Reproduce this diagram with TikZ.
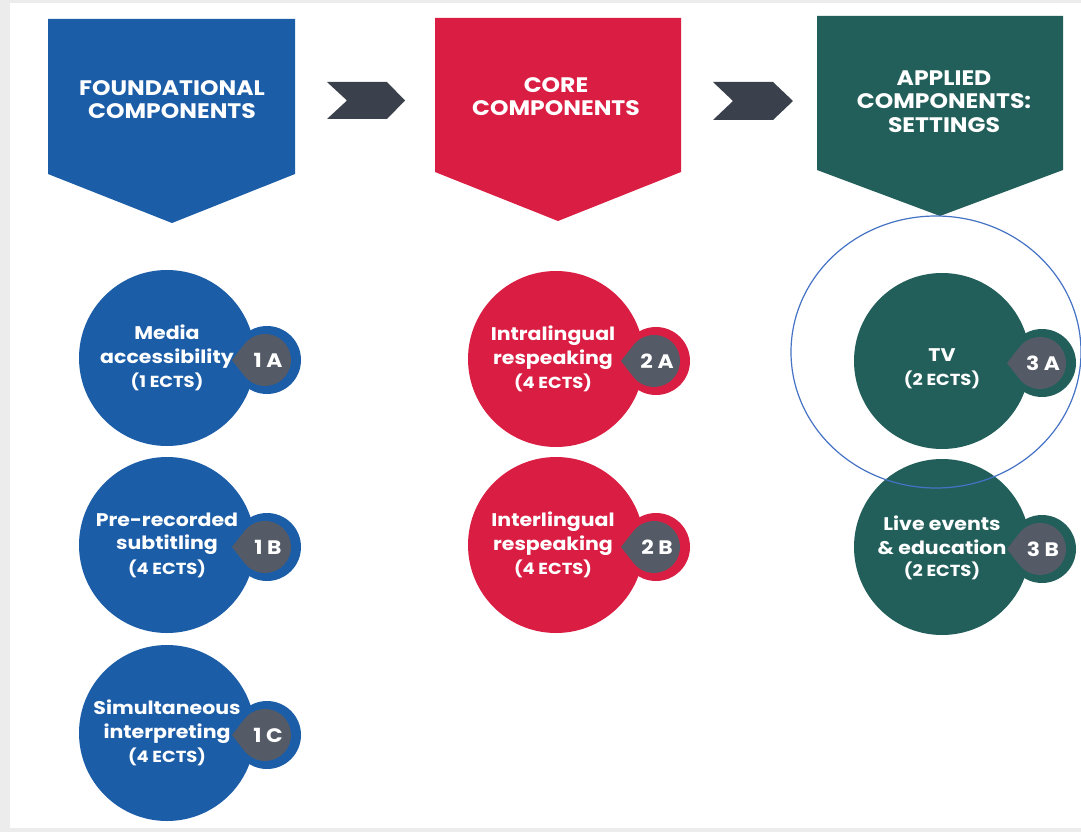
\documentclass[tikz,border=0pt]{standalone}
\usepackage{fontspec}
\setmainfont{Poppins}[FakeStretch=1.12]
\definecolor{cblue}{HTML}{1C5DA8}
\definecolor{cred}{HTML}{DA1E43}
\definecolor{cgreen}{HTML}{225F5B}
\definecolor{cbadge}{HTML}{545B66}
\definecolor{cchev}{HTML}{3B414C}
\definecolor{cbg}{HTML}{ECECEC}
\definecolor{cell}{HTML}{4472C4}
\tikzset{
  hdr/.style={text=white, font=\bfseries\fontsize{21}{23.5}\selectfont, align=center, inner sep=0pt},
  big/.style={circle, minimum size=176pt, inner sep=0pt, fill=#1},
  ring/.style={circle, minimum size=68pt, inner sep=0pt, fill=#1},
  ctext/.style={text=white, font=\bfseries\fontsize{18.3}{23.5}\selectfont, align=center, inner sep=0pt},
  ects/.style={text=white, font=\bfseries\fontsize{16}{18}\selectfont, inner sep=0pt},
  btext/.style={text=white, font=\bfseries\fontsize{19.5}{21}\selectfont, inner sep=0pt},
  chev/.style={fill=cchev},
}
\newcommand{\badge}[1]{% #1 = badge centre name
  \fill[cbadge] ($(#1)+(-33,0)$) -- ($(#1)+(142:26)$) arc[start angle=142, end angle=-142, radius=26] -- cycle;
}
\usetikzlibrary{calc}
\begin{document}
\begin{tikzpicture}[x=1pt, y=-1pt]
\useasboundingbox (0,0) rectangle (1081,832);
\fill[cbg] (0,0) rectangle (1081,832);
\fill[white] (10,3) rectangle (1081,828);
% headers
\fill[cblue] (48,19) -- (295,19) -- (295,174) -- (172,223) -- (48,174) -- cycle;
\fill[cred] (435,18) -- (681,18) -- (681,172) -- (558,221) -- (435,172) -- cycle;
\fill[cgreen] (817,16) -- (1063,16) -- (1063,170) -- (940,216) -- (817,170) -- cycle;
\node[hdr] (h1) at (172,99.5) {FOUNDATIONAL\\COMPONENTS};
\node[hdr] (h2) at (556,96.5) {CORE\\COMPONENTS};
\node[hdr] (h3) at (944,101.5) {APPLIED\\COMPONENTS:\\SETTINGS};
% chevrons
\fill[chev] (327,82) -- (387,82) -- (405,100.5) -- (387,119) -- (327,119) -- (347,100.5) -- cycle;
\fill[chev] (713,82) -- (773,82) -- (793,101) -- (773,120) -- (713,120) -- (733,101) -- cycle;
% circles
\foreach \n/\x/\y/\c in {c1a/167/358/cblue, c1b/167/545/cblue, c1c/167/733/cblue,
                         c2a/556/359/cred, c2b/556/545/cred,
                         c3a/942/361/cgreen, c3b/942/547/cgreen}{
  \node[ring=\c] (\n r) at (\x+100,\y+2) {};
  \node[big=\c] (\n) at (\x,\y) {};
  \coordinate (\n b) at (\x+98,\y+2);
  \badge{\n b}
}
% texts
\node[ctext] (t1a) at ($(c1a)+(0,-11.5)$) {Media\\accessibility};
\node[ects] (e1a) at ($(c1a)+(0,24)$) {(1 ECTS)};
\node[ctext] (t1b) at ($(c1b)+(0,-11.5)$) {Pre-recorded\\subtitling};
\node[ects] (e1b) at ($(c1b)+(0,24)$) {(4 ECTS)};
\node[ctext] (t1c) at ($(c1c)+(0,-11.5)$) {Simultaneous\\interpreting};
\node[ects] (e1c) at ($(c1c)+(0,24)$) {(4 ECTS)};
\node[ctext] (t2a) at ($(c2a)+(-3,-11.5)$) {Intralingual\\respeaking};
\node[ects] (e2a) at ($(c2a)+(-3,24)$) {(4 ECTS)};
\node[ctext] (t2b) at ($(c2b)+(-3,-11.5)$) {Interlingual\\respeaking};
\node[ects] (e2b) at ($(c2b)+(-3,24)$) {(4 ECTS)};
\node[ctext] (t3a) at ($(c3a)+(0,-6)$) {TV};
\node[ects] (e3a) at ($(c3a)+(0,19)$) {(2 ECTS)};
\node[ctext] (t3b) at ($(c3b)+(0,-11.5)$) {Live events\\\&{} education};
\node[ects] (e3b) at ($(c3b)+(0,24)$) {(2 ECTS)};
% badge labels
\foreach \n/\t in {c1a/1 A, c1b/1 B, c1c/1 C, c2a/2 A, c2b/2 B, c3a/3 A, c3b/3 B}{
  \node[btext] (\n l) at ($(\n b)+(3,0)$) {\t};
}
% highlight ellipse
\draw[cell, line width=1.2pt] (936,352) ellipse[x radius=145, y radius=136];
\end{tikzpicture}
\end{document}
